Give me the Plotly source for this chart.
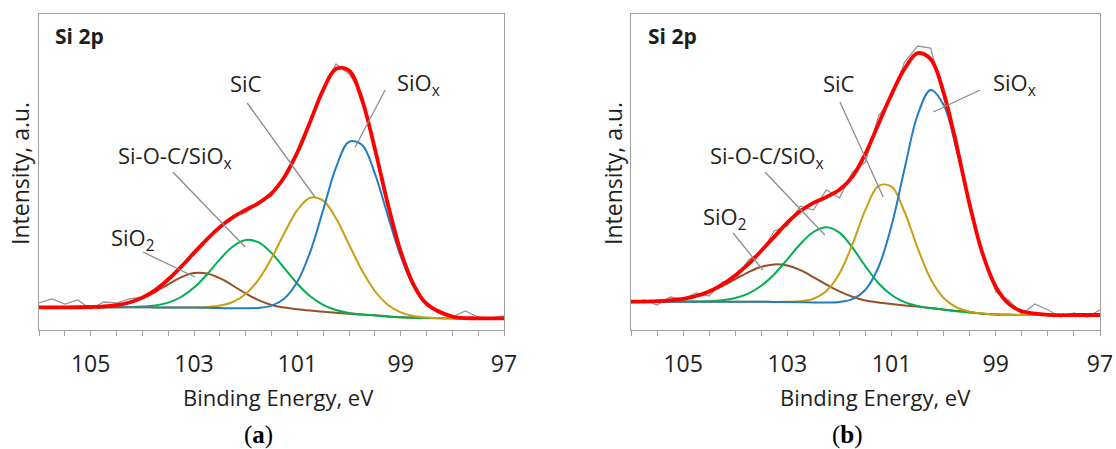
import plotly.graph_objects as go

# ---------------- data (binding energy in eV, intensity in a.u.) ----------------
E = [106, 105.5, 105, 104.75, 104.5, 104.25, 104, 103.75, 103.5, 103.25, 103, 102.75,
     102.5, 102.25, 102, 101.75, 101.5, 101.25, 101, 100.75, 100.5, 100.25, 100, 99.75,
     99.5, 99.25, 99, 98.75, 98.5, 98, 97.5, 97]
E_raw = [106, 105.75, 105.5, 105.25, 105, 104.75, 104.5, 104.25, 104, 103.75, 103.5, 103.25,
         103, 102.75, 102.5, 102.25, 102, 101.75, 101.5, 101.25, 101, 100.75, 100.5, 100.25,
         100, 99.75, 99.5, 99.25, 99, 98.75, 98.5, 98.25, 98, 97.75, 97.5, 97.25, 97]

# panel (a)
a_raw = [27, 31, 26, 30, 21, 28, 27, 31, 33, 40, 52, 63, 79, 91, 104, 114, 117, 128, 134, 155,
         180, 210, 240, 266, 256, 236, 181, 128, 78, 47, 24, 20, 13, 19, 13, 12, 14]
a_sio2 = [22.7, 22.7, 23.0, 23.5, 24.7, 27.3, 31.7, 38.0, 45.7, 52.7, 56.9, 56.6, 51.9, 44.5,
          36.6, 29.8, 25.0, 22.4, 20.7, 19.4, 18.3, 17.2, 16.2, 15.5, 14.7, 13.6, 12.8, 12.3,
          12.0, 11.8, 11.7, 11.7]
a_sioc = [22.7, 22.7, 22.7, 22.7, 22.8, 22.9, 23.4, 24.5, 27.4, 33.0, 42.4, 55.5, 70.6, 83.5,
          90.0, 87.6, 77.0, 61.7, 46.3, 33.7, 25.2, 20.0, 17.0, 15.6, 14.6, 13.6, 12.8, 12.3,
          12.0, 11.8, 11.7, 11.7]
a_sic = [22.7, 22.7, 22.7, 22.7, 22.7, 22.7, 22.7, 22.6, 22.6, 22.6, 22.6, 23.0, 24.4, 28.0,
         36.0, 50.4, 71.7, 97.0, 119.9, 132.3, 129.3, 111.5, 85.5, 59.7, 39.0, 25.3, 17.7, 14.0,
         12.5, 11.8, 11.7, 11.7]
a_siox = [22.7, 22.7, 22.7, 22.7, 22.7, 22.7, 22.7, 22.6, 22.6, 22.5, 22.4, 22.2, 22.0, 21.7,
          21.7, 22.1, 24.4, 31.6, 48.2, 78.2, 120.1, 162.6, 188.2, 185.2, 156.6, 114.6, 73.8,
          43.6, 25.7, 13.4, 11.7, 11.7]
a_env = [22.7, 22.7, 23.0, 23.5, 24.8, 27.5, 32.4, 39.9, 50.5, 63.2, 77.1, 90.7, 102.9, 112.6,
         120.1, 126.9, 136.6, 153.0, 177.5, 208.4, 240.1, 261.2, 259.5, 230.4, 181.4, 126.3,
         78.7, 45.3, 26.2, 13.4, 11.7, 11.7]

# panel (b)
b_raw = [27, 30, 25, 33, 31, 37, 34, 48, 50, 70, 78, 99, 104, 124, 120, 140, 132, 158, 168, 214,
         232, 268, 284, 282, 232, 192, 120, 80, 38, 30, 16, 26, 20, 13, 17, 13, 20]
b_sio2 = [28.4, 28.8, 31.1, 33.8, 38.0, 43.8, 50.8, 57.7, 63.2, 65.6, 64.4, 59.8, 52.9, 45.4,
          38.7, 33.3, 29.5, 27.6, 26.0, 24.6, 23.4, 22.0, 20.6, 19.1, 17.7, 16.3, 15.6, 15.2,
          15.1, 15.0, 15.0, 15.0]
b_sioc = [28.3, 28.3, 28.4, 28.5, 28.8, 29.8, 32.0, 36.3, 44.2, 55.8, 70.7, 86.0, 98.0, 102.8,
          97.4, 82.3, 63.6, 46.8, 35.0, 27.9, 24.1, 21.9, 20.3, 18.8, 17.5, 16.3, 15.6, 15.2,
          15.1, 15.0, 15.0, 15.0]
b_sic = [28.3, 28.3, 28.3, 28.3, 28.3, 28.3, 28.3, 28.2, 28.2, 28.1, 28.2, 28.7, 31.2, 39.0,
         56.5, 85.8, 120.3, 144.1, 143.4, 118.0, 82.1, 51.1, 32.0, 22.5, 18.4, 16.5, 15.6, 15.2,
         15.1, 15.0, 15.0, 15.0]
b_siox = [28.3, 28.3, 28.3, 28.3, 28.3, 28.3, 28.3, 28.2, 28.2, 28.1, 28.0, 27.8, 27.5, 27.4,
          28.0, 30.9, 40.4, 63.0, 104.5, 161.2, 215.0, 240.1, 225.0, 179.9, 124.1, 75.6, 43.3,
          26.1, 18.7, 15.2, 15.0, 15.0]
b_env = [28.4, 28.8, 31.2, 34.0, 38.5, 45.3, 54.5, 65.8, 79.2, 93.3, 107.3, 118.9, 127.1, 133.0,
         140.2, 153.4, 176.4, 206.2, 235.7, 261.2, 276.8, 270.9, 237.3, 183.9, 125.2, 75.8, 43.3,
         26.1, 18.7, 15.2, 15.0, 15.0]

tick_vals = [105, 103, 101, 99, 97]
tick_text = ["105", "103", "101", "99", "97"]

# labels: (text, x eV, y intensity)
a_labels = [("SiO<sub>2</sub>", 104.18, 91), ("Si-O-C/SiO<sub>x</sub>", 103.37, 173),
            ("SiC", 101.99, 247), ("SiO<sub>x</sub>", 98.65, 246)]
a_leaders = [(103.99, 78, 102.98, 53), (103.41, 158, 102.01, 83),
             (101.97, 227, 100.66, 133), (99.30, 240, 99.88, 183)]
b_labels = [("SiO<sub>2</sub>", 104.20, 112), ("Si-O-C/SiO<sub>x</sub>", 103.39, 173),
            ("SiC", 102.01, 247), ("SiO<sub>x</sub>", 98.65, 246)]
b_leaders = [(104.04, 97, 103.47, 60), (103.43, 158, 102.28, 95),
             (101.99, 228, 101.16, 133), (99.30, 240, 100.20, 218)]

# ---------------- styling ----------------
C_RAW = "rgb(150,150,150)"
C_SIO2 = "rgb(150,80,40)"
C_SIOC = "rgb(0,176,80)"
C_SIC = "rgb(200,158,20)"
C_SIOX = "rgb(35,125,190)"
C_ENV = "rgb(255,0,0)"
FRAME = "rgb(160,160,160)"
TXT = "rgb(30,30,30)"
FONT = "Open Sans"

W, H = 1116, 449
dom_a = [39 / W, 504 / W]
dom_b = [631 / W, 1100 / W]
dom_y = [(H - 330) / H, (H - 14) / H]

fig = go.Figure()


def add_panel(xa, ya, raw, sio2, sioc, sic, siox, env):
    fig.add_trace(go.Scatter(x=E_raw, y=raw, mode="lines", xaxis=xa, yaxis=ya,
                             line=dict(color=C_RAW, width=1.3), showlegend=False))
    for ser, col in [(sio2, C_SIO2), (sioc, C_SIOC), (sic, C_SIC), (siox, C_SIOX)]:
        fig.add_trace(go.Scatter(x=E, y=ser, mode="lines", xaxis=xa, yaxis=ya,
                                 line=dict(color=col, width=2, shape="spline", smoothing=1.0),
                                 showlegend=False))
    fig.add_trace(go.Scatter(x=E, y=env, mode="lines", xaxis=xa, yaxis=ya,
                             line=dict(color=C_ENV, width=3.8, shape="spline", smoothing=1.0),
                             showlegend=False))


add_panel("x", "y", a_raw, a_sio2, a_sioc, a_sic, a_siox, a_env)
add_panel("x2", "y2", b_raw, b_sio2, b_sioc, b_sic, b_siox, b_env)

xcommon = dict(range=[106, 97], showgrid=False, zeroline=False, showline=True, mirror=True,
               linecolor=FRAME, linewidth=1.3, tickvals=tick_vals, ticktext=tick_text,
               ticks="outside", ticklen=5, tickwidth=1.3, tickcolor=FRAME, automargin=False,
               tickfont=dict(family=FONT, size=23, color=TXT), ticklabelstandoff=8,
               minor=dict(dtick=0.5, tick0=97, ticks="outside", ticklen=5, tickwidth=1.3,
                          tickcolor=FRAME))
# overlay axes carrying only the inner part of the major ticks
xinner = dict(range=[106, 97], showgrid=False, zeroline=False, showline=False,
              tickvals=tick_vals, showticklabels=False, ticks="inside", ticklen=7,
              tickwidth=1.3, tickcolor=FRAME, automargin=False)
ycommon = dict(range=[0, 316], showgrid=False, zeroline=False, showline=True, mirror=True,
               linecolor=FRAME, linewidth=1.3, showticklabels=False, ticks="",
               automargin=False)

fig.update_layout(
    width=W, height=H, margin=dict(l=0, r=0, t=0, b=0, pad=0, autoexpand=False),
    paper_bgcolor="white", plot_bgcolor="white",
    xaxis=dict(domain=dom_a, anchor="y", **xcommon),
    yaxis=dict(domain=dom_y, anchor="x", **ycommon),
    xaxis2=dict(domain=dom_b, anchor="y2", **xcommon),
    yaxis2=dict(domain=dom_y, anchor="x2", **ycommon),
    xaxis3=dict(overlaying="x", anchor="y", side="bottom", **xinner),
    xaxis4=dict(overlaying="x2", anchor="y2", side="bottom", **xinner),
)

ann = []
shapes = []
for xr, yr, labels, leaders, xt, yt, pl, plx in [
        ("x", "y", a_labels, a_leaders, 278, 20, "(<b>a</b>)", 258),
        ("x2", "y2", b_labels, b_leaders, 875, 613, "(<b>b</b>)", 847)]:
    ann.append(dict(text="<b>Si 2p</b>", x=105.72, y=294, xref=xr, yref=yr, xanchor="left",
                    yanchor="middle", showarrow=False,
                    font=dict(family=FONT, size=21, color=TXT)))
    for t, lx, ly in labels:
        ann.append(dict(text=t, x=lx, y=ly, xref=xr, yref=yr, xanchor="center",
                        yanchor="middle", showarrow=False,
                        font=dict(family=FONT, size=22, color=TXT)))
    for x0, y0, x1, y1 in leaders:
        shapes.append(dict(type="line", xref=xr, yref=yr, x0=x0, y0=y0, x1=x1, y1=y1,
                           line=dict(color="rgb(140,140,140)", width=1.3)))
    ann.append(dict(text="Binding Energy, eV", x=xt / W, y=(H - 397) / H, xref="paper",
                    yref="paper", xanchor="center", yanchor="middle", showarrow=False,
                    font=dict(family=FONT, size=22, color=TXT)))
    ann.append(dict(text="Intensity, a.u.", x=yt / W, y=(H - 174) / H, xref="paper",
                    yref="paper", xanchor="center", yanchor="middle", showarrow=False,
                    textangle=-90, font=dict(family=FONT, size=23, color=TXT)))
    ann.append(dict(text=pl, x=plx / W, y=(H - 435) / H, xref="paper", yref="paper",
                    xanchor="center", yanchor="middle", showarrow=False,
                    font=dict(family="Liberation Serif", size=25, color="black")))

fig.update_layout(annotations=ann, shapes=shapes)
fig.write_html("out.html")
